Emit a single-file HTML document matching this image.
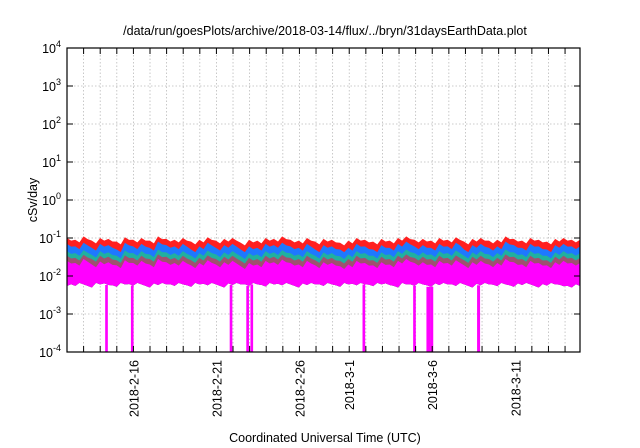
<!DOCTYPE html>
<html><head><meta charset="utf-8"><style>
body{margin:0;background:#fff;}
svg{display:block;font-family:"Liberation Sans",sans-serif;}
</style></head><body>
<svg id="chart" width="640" height="448" viewBox="0 0 640 448" xmlns="http://www.w3.org/2000/svg">
<text x="325" y="35" font-size="12.5" text-anchor="middle" fill="#000">/data/run/goesPlots/archive/2018-03-14/flux/../bryn/31daysEarthData.plot</text>
<text transform="translate(37,200) rotate(-90)" font-size="12.5" text-anchor="middle">cSv/day</text>
<text x="325" y="442" font-size="12.5" text-anchor="middle">Coordinated Universal Time (UTC)</text>
<g id="grid"></g>
<g id="series"></g>
<g id="axes"></g>
</svg>
<script>
const yTicks=[4,3,2,1,0,-1,-2,-3,-4];
const xLabels=["2018-2-16","2018-2-21","2018-2-26","2018-3-1","2018-3-6","2018-3-11"];
const xLabelDays=[4,9,14,17,22,27];
const red=[0.10,0.09,0.11,0.085,0.10,0.095,0.08,0.105,0.09,0.10,0.085,0.11,0.095,0.09,0.10,0.08,0.09,0.105,0.085,0.095,0.10,0.075,0.09,0.085,0.10,0.095,0.11,0.09,0.085,0.10,0.08,0.095,0.09,0.075,0.085,0.10,0.09,0.08,0.095,0.085,0.10,0.11,0.09,0.095,0.085,0.10,0.09,0.105,0.08,0.095,0.10,0.085,0.09,0.11,0.095,0.085,0.10,0.09,0.08,0.095,0.10,0.09];
const blue=[0.07,0.06,0.075,0.055,0.07,0.065,0.05,0.075,0.06,0.07,0.055,0.08,0.065,0.06,0.07,0.05,0.06,0.075,0.055,0.065,0.07,0.05,0.06,0.055,0.07,0.065,0.075,0.06,0.055,0.07,0.05,0.065,0.06,0.05,0.055,0.07,0.06,0.05,0.065,0.055,0.07,0.08,0.06,0.065,0.055,0.07,0.06,0.075,0.05,0.065,0.07,0.055,0.06,0.08,0.065,0.055,0.07,0.06,0.05,0.065,0.07,0.06];
const teal=[0.045,0.04,0.048,0.036,0.045,0.042,0.034,0.047,0.04,0.045,0.037,0.05,0.042,0.04,0.045,0.034,0.04,0.047,0.037,0.042,0.045,0.033,0.04,0.037,0.045,0.042,0.048,0.04,0.037,0.045,0.034,0.042,0.04,0.033,0.037,0.045,0.04,0.034,0.042,0.037,0.045,0.05,0.04,0.042,0.037,0.045,0.04,0.047,0.034,0.042,0.045,0.037,0.04,0.05,0.042,0.037,0.045,0.04,0.034,0.042,0.045,0.04];
const brown=[0.034,0.03,0.036,0.028,0.034,0.032,0.026,0.035,0.03,0.034,0.028,0.037,0.032,0.03,0.034,0.026,0.03,0.035,0.028,0.032,0.034,0.025,0.03,0.028,0.034,0.032,0.036,0.03,0.028,0.034,0.026,0.032,0.03,0.025,0.028,0.034,0.03,0.026,0.032,0.028,0.034,0.037,0.03,0.032,0.028,0.034,0.03,0.035,0.026,0.032,0.034,0.028,0.03,0.037,0.032,0.028,0.034,0.03,0.026,0.032,0.034,0.03];
const magTop=[0.025,0.022,0.028,0.02,0.024,0.023,0.019,0.026,0.022,0.025,0.02,0.028,0.023,0.022,0.025,0.019,0.022,0.026,0.02,0.023,0.025,0.018,0.022,0.02,0.025,0.023,0.027,0.022,0.02,0.025,0.019,0.023,0.022,0.018,0.02,0.025,0.022,0.019,0.023,0.02,0.025,0.028,0.022,0.023,0.02,0.025,0.022,0.026,0.019,0.023,0.025,0.02,0.022,0.028,0.023,0.02,0.025,0.022,0.019,0.023,0.025,0.022];
const magBot=[0.0055,0.006,0.005,0.006,0.0058,0.0052,0.006,0.0056,0.006,0.005,0.0058,0.006,0.0055,0.006,0.0052,0.006,0.0057,0.006,0.005,0.0058,0.006,0.0055,0.006,0.0053,0.006,0.0057,0.006,0.005,0.0058,0.006,0.0055,0.006,0.0052,0.006,0.0057,0.006,0.0054,0.006,0.0058,0.005,0.006,0.0055,0.006,0.0052,0.0058,0.006,0.0055,0.006,0.005,0.0057,0.006,0.0054,0.006,0.0052,0.0058,0.006,0.005,0.0056,0.006,0.0054,0.005,0.0055];
const dropDays=[2.3,3.85,9.8,10.8,11.05,17.8,20.85,21.65,21.9,24.7];
const dropWidths=[0.1,0.1,0.1,0.1,0.1,0.1,0.1,0.2,0.1,0.12];
const NS="http://www.w3.org/2000/svg";
const L=67,R=580,T=48,B=352,days=30.9;
const xs=d=>L+(R-L)*d/days;
const ys=v=>T+(4-Math.log10(v))*(B-T)/8;
function mk(tag,attrs,parent){const e=document.createElementNS(NS,tag);for(const k in attrs)e.setAttribute(k,attrs[k]);parent.appendChild(e);return e;}
const grid=document.getElementById('grid'),ser=document.getElementById('series'),ax=document.getElementById('axes');
for(let d=1;d<days;d++){const g=mk('line',{x1:xs(d),x2:xs(d),y1:T,y2:B,stroke:'#bbb','stroke-dasharray':'1.5,2','stroke-width':0.8},grid);
}
yTicks.forEach(p=>{const y=ys(Math.pow(10,p));
if(p<4&&p>-4){const g=mk('line',{x1:L,x2:R,y1:y,y2:y,stroke:'#bbb','stroke-dasharray':'1.5,2','stroke-width':0.8},grid);}
const t=mk('text',{x:L-6,y:y+5,'font-size':12.5,'text-anchor':'end'},ax);

t.appendChild(document.createTextNode('10'));const s=mk('tspan',{dy:-6,'font-size':9},t);s.textContent=String(p).replace('-','-');
mk('line',{x1:L,x2:L+6,y1:y,y2:y,stroke:'#000'},ax);mk('line',{x1:R,x2:R-6,y1:y,y2:y,stroke:'#000'},ax);});
const n=red.length;
function area(top,color,name){let pts=[];
for(let i=0;i<n;i++){const x0=xs(i*days/n),x1=xs((i+1)*days/n);pts.push(x0+','+ys(top[i]));pts.push((x0+x1)/2+','+ys(top[i]*0.85));}
pts.push(R+','+ys(top[n-1]));
for(let i=n-1;i>=0;i--){const x0=xs(i*days/n),x1=xs((i+1)*days/n);pts.push(x1+','+ys(magBot[i]));pts.push((x0+x1)/2+','+ys(magBot[i]*1.1));}
pts.push(L+','+ys(magBot[0]));
const p=mk('polygon',{points:pts.join(' '),fill:color},ser);}
area(red,'#ff2020','series-red');area(blue,'#1e78ff','series-blue');area(teal,'#20b0a0','series-teal');area(brown,'#a05070','series-brown');area(magTop,'#ff00ff','series-magenta');
dropDays.forEach((d,i)=>{const r=mk('rect',{x:xs(d),y:ys(magBot[Math.floor(d/days*n)]),width:xs(dropWidths[i])-L+1,height:B-ys(magBot[Math.floor(d/days*n)]),fill:'#ff00ff'},ser);
});
for(let d=1;d<days;d++){mk('line',{x1:xs(d),x2:xs(d),y1:B,y2:B-6,stroke:'#000'},ax);mk('line',{x1:xs(d),x2:xs(d),y1:T,y2:T+6,stroke:'#000'},ax);}
xLabels.forEach((lab,i)=>{const x=xs(xLabelDays[i]);const t=mk('text',{transform:`translate(${x+5},${B+8}) rotate(-90)`,'font-size':12.5,'text-anchor':'end'},ax);
t.textContent=lab;});
const f=mk('rect',{x:L,y:T,width:R-L,height:B-T,fill:'none',stroke:'#000','stroke-width':1.2},ax);

</script>
</body></html>
